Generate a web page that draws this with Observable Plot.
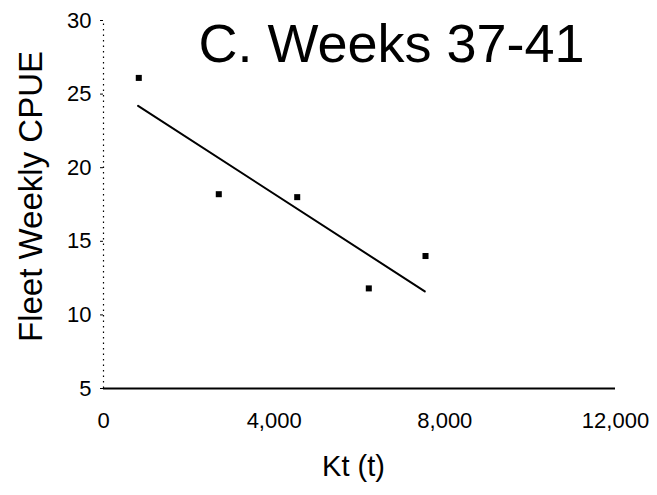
<!DOCTYPE html>
<html>
<head>
<meta charset="utf-8">
<script src="https://cdn.jsdelivr.net/npm/d3@7"></script>
<script src="https://cdn.jsdelivr.net/npm/@observablehq/plot@0.6"></script>
<style>
  html, body { margin: 0; padding: 0; background: #fff; }
  #chart svg { display: block; }
</style>
</head>
<body>
<div id="chart"></div>
<script>
const kt = [827, 2702, 4540, 6218, 7547];
const cpue = [26.1, 18.2, 18.0, 11.8, 14.0];
const fitKt = [811, 7530];
const fitCpue = [24.2, 11.6];
const xTicks = [0, 4000, 8000, 12000];
const yTicks = [5, 10, 15, 20, 25, 30];
const title = "C. Weeks 37-41";
const xLabel = "Kt (t)";
const yLabel = "Fleet Weekly CPUE";

const points = kt.map((x, i) => ({x, y: cpue[i]}));
const fit = fitKt.map((x, i) => ({x, y: fitCpue[i]}));

const chart = Plot.plot({
  width: 657,
  height: 495,
  marginLeft: 103,
  marginRight: 42,
  marginTop: 20,
  marginBottom: 107,
  style: {fontFamily: "'Liberation Sans', Arial, sans-serif", background: "#fff", color: "#000"},
  x: {domain: [0, 12000]},
  y: {domain: [5, 30]},
  marks: [
    Plot.axisX({ticks: xTicks, tickFormat: d3.format(","), tickSize: 0, tickPadding: 24, fontSize: 22, label: null}),
    Plot.axisY({ticks: yTicks, tickSize: 3, tickPadding: 9, fontSize: 22, label: null}),
    Plot.ruleX([0], {y1: 5, y2: 30, stroke: "#000", strokeWidth: 1.2, strokeDasharray: "1.5,4"}),
    Plot.ruleY([5], {x1: 0, x2: 12000, stroke: "#000", strokeWidth: 2}),
    Plot.line(fit, {x: "x", y: "y", stroke: "#000", strokeWidth: 2}),
    Plot.dot(points, {x: "x", y: "y", symbol: "square", r: 3.4, fill: "#000", stroke: "none"}),
    Plot.text([title], {frameAnchor: "top", dx: 32, dy: 3, lineAnchor: "top", fontSize: 54, fill: "#000"}),
    Plot.text([xLabel], {frameAnchor: "bottom", dx: -6, dy: 87, lineAnchor: "bottom", fontSize: 29, fill: "#000"}),
    Plot.text([yLabel], {frameAnchor: "left", textAnchor: "middle", dx: -72, dy: -8, rotate: -90, lineAnchor: "middle", fontSize: 33, fill: "#000"})
  ]
});
document.getElementById("chart").appendChild(chart);
</script>
</body>
</html>
